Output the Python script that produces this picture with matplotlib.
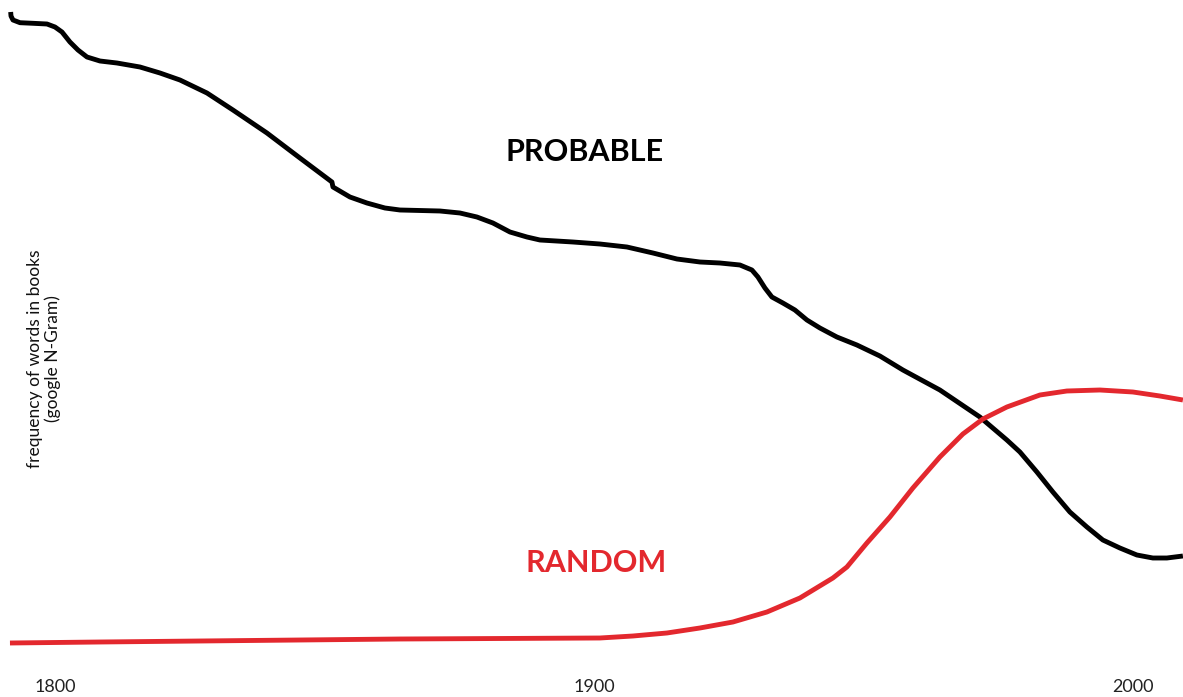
import matplotlib
matplotlib.use("Agg")
import matplotlib.pyplot as plt

# probable: years and frequency (arbitrary units)
probable_years = [1791.78, 1791.84, 1792.21, 1793.51, 1795.92, 1798.52, 1800.00, 1801.30, 1802.78, 1804.27,
                  1805.94, 1808.35, 1811.50, 1815.77, 1819.48, 1823.19, 1828.20, 1833.02, 1839.33, 1845.45,
                  1851.39, 1851.58, 1854.73, 1857.88, 1861.22, 1864.01, 1867.72, 1871.43, 1875.14, 1878.29,
                  1881.26, 1884.42, 1887.57, 1889.98, 1896.10, 1901.11, 1906.12, 1910.95, 1915.40, 1919.67,
                  1923.38, 1927.09, 1929.31, 1930.43, 1931.73, 1933.02, 1935.06, 1937.29, 1939.52, 1941.93,
                  1945.08, 1948.79, 1953.06, 1957.33, 1964.19, 1971.61, 1976.62, 1979.04, 1982.19, 1985.16,
                  1988.31, 1991.47, 1994.43, 1997.59, 2000.74, 2003.71, 2006.31, 2009.28]
probable_vals = [68.5, 68.1, 67.7, 67.43, 67.37, 67.3, 67.0, 66.5, 65.5, 64.7,
                 64.0, 63.6, 63.4, 63.0, 62.4, 61.7, 60.4, 58.7, 56.4, 53.9,
                 51.5, 51.0, 50.0, 49.4, 48.9, 48.7, 48.65, 48.6, 48.4, 48.0,
                 47.4, 46.5, 46.0, 45.7, 45.5, 45.3, 45.0, 44.4, 43.8, 43.5,
                 43.4, 43.2, 42.7, 42.0, 40.9, 40.0, 39.4, 38.7, 37.7, 36.9,
                 36.0, 35.2, 34.1, 32.7, 30.7, 28.0, 25.7, 24.5, 22.5, 20.5,
                 18.5, 17.0, 15.7, 14.9, 14.2, 13.9, 13.9, 14.1]

random_years = [1791.65, 1808.35, 1826.90, 1845.45, 1864.01, 1882.56, 1901.11, 1907.24, 1913.54, 1919.67,
                1925.79, 1932.10, 1938.22, 1944.34, 1946.94, 1950.65, 1954.92, 1959.18, 1964.19, 1968.46,
                1972.17, 1976.62, 1982.75, 1987.76, 1993.88, 2000.00, 2005.01, 2009.28]
random_vals = [5.4, 5.5, 5.6, 5.7, 5.8, 5.85, 5.9, 6.1, 6.4, 6.9,
               7.5, 8.5, 9.9, 11.9, 13.0, 15.4, 18.0, 20.9, 24.0, 26.3,
               27.8, 29.0, 30.2, 30.6, 30.7, 30.5, 30.1, 29.7]

tick_years = [1800, 1900, 2000]
tick_labels = ["1800", "1900", "2000"]

RED = "#e3282e"

plt.rcParams['font.family'] = ['Lato', 'DejaVu Sans']

fig = plt.figure(figsize=(11.83, 6.97), dpi=100)
ax = fig.add_axes([0, 0, 1, 1])

ax.plot(probable_years, probable_vals, color="black", lw=3.5, solid_capstyle="butt",
        solid_joinstyle="round")
ax.plot(random_years, random_vals, color=RED, lw=3.5, solid_capstyle="butt",
        solid_joinstyle="round")

ax.set_xlim(1789.8, 2009.3)
ax.set_ylim(0, 69.7)

ax.text(1898.3, 54.5, "PROBABLE", fontsize=22, fontweight="bold", color="black",
        ha="center", va="center")
ax.text(1900.4, 13.4, "RANDOM", fontsize=22, fontweight="bold", color=RED,
        ha="center", va="center")

ax.text(0.037, 0.485, "frequency of words in books\n(google N-Gram)", transform=ax.transAxes,
        rotation=90, ha="center", va="center", fontsize=12.5, color="#111111",
        linespacing=1.1)

ax.set_xticks(tick_years)
ax.set_xticklabels(tick_labels, fontsize=13, color="#222222")
ax.tick_params(axis="x", length=0, pad=-13)
ax.set_yticks([])
for s in ax.spines.values():
    s.set_visible(False)

fig.savefig("out.png", dpi=100)
